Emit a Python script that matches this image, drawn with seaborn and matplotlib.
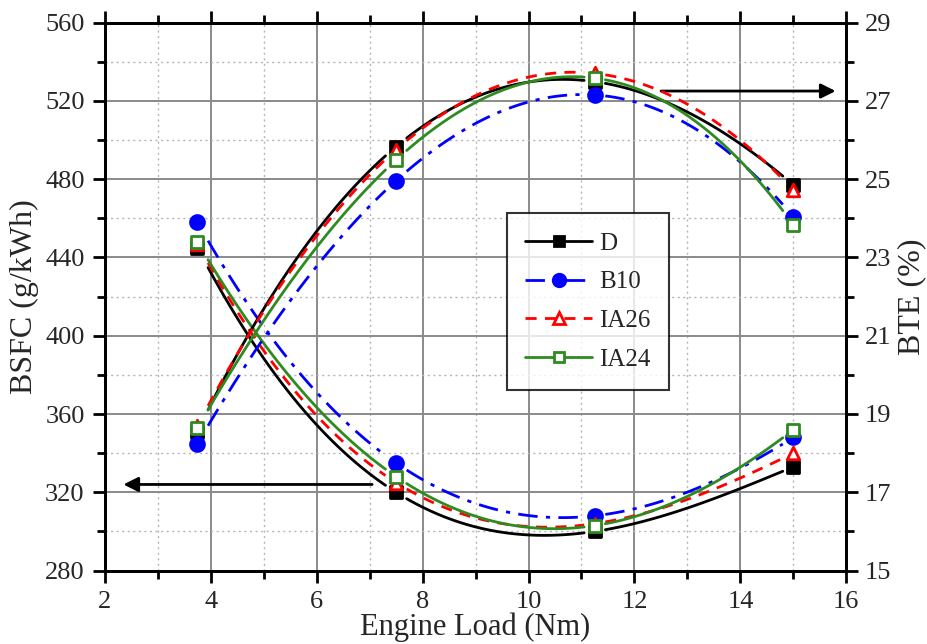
import numpy as np
import pandas as pd
import matplotlib
matplotlib.use("Agg")
import matplotlib.pyplot as plt
import seaborn as sns
from matplotlib.lines import Line2D

# ---- data ----
load = [3.75, 7.5, 11.25, 15.0]
fuels = ["D", "B10", "IA26", "IA24"]
bsfc_D = [445, 320, 300, 333]
bsfc_B10 = [458, 335, 308, 348]
bsfc_IA26 = [447, 325, 304, 340]
bsfc_IA24 = [448, 328, 303, 352]
bte_D = [18.55, 25.83, 27.49, 24.85]
bte_B10 = [18.24, 24.96, 27.15, 24.04]
bte_IA26 = [18.70, 25.75, 27.70, 24.72]
bte_IA24 = [18.64, 25.49, 27.58, 23.83]
x_ticks = [2, 4, 6, 8, 10, 12, 14, 16]
bsfc_ticks = [280, 320, 360, 400, 440, 480, 520, 560]
bte_ticks = [15, 17, 19, 21, 23, 25, 27, 29]

bsfc = {"D": bsfc_D, "B10": bsfc_B10, "IA26": bsfc_IA26, "IA24": bsfc_IA24}
bte = {"D": bte_D, "B10": bte_B10, "IA26": bte_IA26, "IA24": bte_IA24}

style = {
    "D": dict(color="black", ls="-", marker="s", mfc="black"),
    "B10": dict(color="#0000ff", ls=(0, (7, 3, 1.5, 3)), marker="o", mfc="#0000ff"),
    "IA26": dict(color="#ff0000", ls=(0, (4, 3)), marker="^", mfc="white"),
    "IA24": dict(color="#2e8b1f", ls="-", marker="s", mfc="white"),
}
msize = {"s": 8.5, "o": 10, "^": 9}

sns.set_theme(style="white")
plt.rcParams["font.family"] = ["Liberation Serif", "DejaVu Serif"]

fig = plt.figure(figsize=(9.27, 6.44), dpi=100)
ax = fig.add_axes([0.113, 0.114, 0.800, 0.851])
ax2 = ax.twinx()

ax.set_xlim(2, 16)
ax.set_ylim(280, 560)
ax2.set_ylim(15, 29)


def draw(axis, xs, ys, st, gap=0.2):
    coef = np.polyfit(xs, ys, 3)
    for i in range(len(xs) - 1):
        xx = np.linspace(xs[i] + gap, xs[i + 1] - gap, 120)
        df = pd.DataFrame({"x": xx, "y": np.polyval(coef, xx)})
        sns.lineplot(data=df, x="x", y="y", ax=axis, color=st["color"],
                     linestyle=st["ls"], lw=2, estimator=None, sort=False,
                     legend=False, zorder=3)
    sq = dict(s=msize[st["marker"]] ** 2, marker=st["marker"], color=st["mfc"],
              edgecolor=st["color"], linewidth=2, zorder=4)
    sns.scatterplot(x=xs, y=ys, ax=axis, legend=False, **sq)


for f in fuels:
    draw(ax, load, bsfc[f], style[f])
    draw(ax2, load, bte[f], style[f])

# ticks
ax.set_xticks(x_ticks)
ax.set_xticks(np.arange(3, 16, 2), minor=True)
ax.set_yticks(bsfc_ticks)
ax.set_yticks(np.arange(300, 560, 40), minor=True)
ax2.set_yticks(bte_ticks)
ax2.set_yticks(np.arange(16, 29, 2), minor=True)

ax.grid(True, which="major", color="#8a8a8a", lw=1.4, ls="-")
ax.grid(True, which="minor", color="#b5b5b5", lw=1.0, ls=(0, (1.5, 2.5)))
ax.set_axisbelow(True)

for a in (ax, ax2):
    for sp in a.spines.values():
        sp.set_color("black")
        sp.set_linewidth(2)

ax.tick_params(axis="both", which="major", direction="out", length=8.5, width=2,
               labelsize=19, top=True, bottom=True, left=True, right=False,
               color="black", pad=6)
ax.tick_params(axis="x", which="major", pad=6)
ax.tick_params(axis="both", which="minor", direction="out", length=5.5, width=2,
               top=True, bottom=True, left=True, right=False, color="black")
ax2.tick_params(axis="y", which="major", direction="out", length=8.5, width=2,
                labelsize=19, color="black", pad=5)
ax2.tick_params(axis="y", which="minor", direction="out", length=5.5, width=2,
                color="black")

ax.set_xlabel("Engine Load (Nm)", fontsize=22, labelpad=0)
ax.set_ylabel("BSFC (g/kWh)", fontsize=23, labelpad=4)
ax2.set_ylabel("BTE (%)", fontsize=23, labelpad=4)

# arrows
ax.annotate("", xy=(2.3, 324), xytext=(7.1, 324),
            arrowprops=dict(arrowstyle="-|>", color="black", lw=2,
                            mutation_scale=22), zorder=5)
ax.annotate("", xy=(15.85, 525), xytext=(12.45, 525),
            arrowprops=dict(arrowstyle="-|>", color="black", lw=2,
                            mutation_scale=22), zorder=5)

# legend
handles = [Line2D([0], [0], color=style[f]["color"], ls=style[f]["ls"], lw=2,
                  marker=style[f]["marker"], markersize=msize[style[f]["marker"]] - 1,
                  markerfacecolor=style[f]["mfc"], markeredgecolor=style[f]["color"],
                  markeredgewidth=2) for f in fuels]
leg = ax2.legend(handles, fuels, loc="upper left", bbox_to_anchor=(0.542, 0.652),
                 fontsize=18, frameon=True, fancybox=False, edgecolor="black",
                 handlelength=2.65, borderpad=0.75, labelspacing=0.65,
                 handletextpad=0.3, borderaxespad=0)
leg.get_frame().set_linewidth(1.5)
leg.set_zorder(10)

fig.savefig("out.png", dpi=100)
